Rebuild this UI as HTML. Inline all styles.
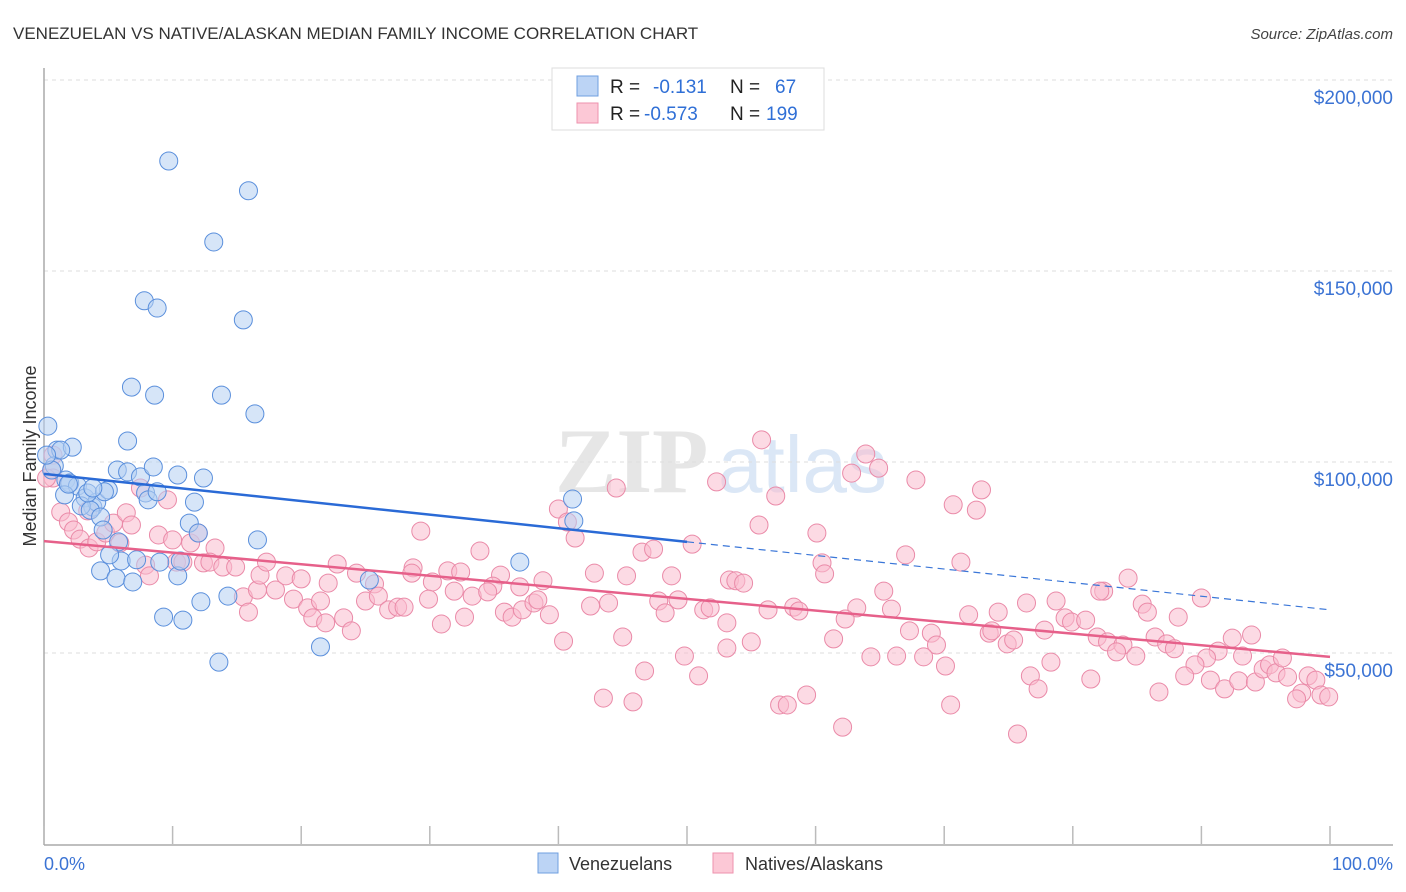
<!DOCTYPE html>
<html><head><meta charset="utf-8"><style>
body{margin:0;background:#fff;font-family:"Liberation Sans",sans-serif;}
svg{display:block}
</style></head><body>
<svg id="chart" width="1406" height="892" xmlns="http://www.w3.org/2000/svg">
<text x="13" y="39" font-size="17" fill="#333">VENEZUELAN VS NATIVE/ALASKAN MEDIAN FAMILY INCOME CORRELATION CHART</text>
<text x="1393" y="39" font-size="15" fill="#444" font-style="italic" text-anchor="end">Source: ZipAtlas.com</text>
<text x="36" y="456" font-size="18" fill="#333" text-anchor="middle" transform="rotate(-90 36 456)">Median Family Income</text>
<g><text x="555" y="492" font-size="92" fill="#e6e6e6" font-family="Liberation Serif,serif" font-weight="bold">ZIP</text><text x="718" y="492" font-size="80" fill="#dbe7f6">atlas</text></g>
<g id="grid"></g><g id="axes"></g><g id="trend"></g><g id="pts"></g>
<g>
<rect x="552" y="68" width="272" height="62" fill="#fff" stroke="#ddd"/>
<rect x="577" y="76" width="21" height="20" fill="#bcd4f5" stroke="#6f9fe0"/>
<rect x="577" y="103" width="21" height="20" fill="#fcc8d6" stroke="#ee92ad"/>
<text y="93" font-size="19"><tspan x="610" fill="#222">R = </tspan><tspan x="653" fill="#2f6fd6">-0.131</tspan><tspan x="730" fill="#222">N = </tspan><tspan x="775" fill="#2f6fd6">67</tspan></text>
<text y="120" font-size="19"><tspan x="610" fill="#222">R = </tspan><tspan x="644" fill="#2f6fd6">-0.573</tspan><tspan x="730" fill="#222">N = </tspan><tspan x="766" fill="#2f6fd6">199</tspan></text>
</g>
<g>
<rect x="538" y="853" width="20" height="20" fill="#bcd4f5" stroke="#6f9fe0"/>
<text x="569" y="870" font-size="18" fill="#333">Venezuelans</text>
<rect x="713" y="853" width="20" height="20" fill="#fcc8d6" stroke="#ee92ad"/>
<text x="745" y="870" font-size="18" fill="#333">Natives/Alaskans</text>
</g>
<text x="44" y="870" font-size="18" fill="#3b73d4">0.0%</text>
<text x="1393" y="870" font-size="18" fill="#3b73d4" text-anchor="end">100.0%</text>
</svg>
<script>
const yTicks=[50000,100000,150000,200000];
const yTickLabels=["$50,000","$100,000","$150,000","$200,000"];
const xTicks=[0,10,20,30,40,50,60,70,80,90,100];
const blueX=[0.3,1.0,2.2,0.8,0.6,1.7,2.0,2.6,1.6,3.2,3.8,4.1,2.9,3.6,4.4,5.0,4.6,5.8,6.0,5.1,4.4,5.6,6.9,5.7,6.5,7.5,8.5,7.9,8.1,8.8,6.5,6.8,8.6,7.8,8.8,9.7,13.2,15.9,15.5,13.8,16.4,10.4,12.4,11.7,11.3,12.0,10.4,9.0,9.3,10.8,12.2,14.3,13.6,16.6,21.5,25.3,37.0,41.1,41.2,1.3,0.2,3.4,4.7,7.2,3.8,1.9,10.6];
const blueY=[109.4,103.1,103.9,99.0,97.9,95.3,94.5,93.7,91.4,90.6,88.2,89.5,88.5,87.4,85.6,92.7,82.2,79.1,74.1,75.7,71.5,69.6,68.6,97.9,97.4,96.1,98.7,91.9,90.1,92.2,105.5,119.6,117.5,142.2,140.3,178.8,157.6,171.0,137.2,117.5,112.6,96.6,95.8,89.5,84.0,81.4,70.2,73.8,59.4,58.6,63.4,64.9,47.6,79.6,51.6,69.1,73.8,90.3,84.6,103.1,101.8,91.9,92.2,74.4,93.2,94.2,74.1];
const pinkX=[0.7,0.6,0.7,1.3,1.9,2.3,2.8,3.5,4.1,4.8,5.4,6.4,6.8,8.9,10.0,11.4,12.0,13.3,12.4,7.9,10.3,10.8,9.6,7.5,5.9,12.9,13.9,14.9,15.5,15.9,16.6,16.8,17.3,18.0,18.8,19.4,20.0,20.5,20.9,21.5,22.1,21.9,0.2,3.4,8.2,
44.5,52.3,40.0,40.7,41.3,29.3,33.9,50.4,46.5,47.4,22.8,24.3,28.7,28.6,31.4,32.4,30.2,35.5,34.9,37.0,38.8,42.8,45.3,48.8,23.3,23.9,25.0,25.7,26.0,26.8,27.5,28.0,29.9,31.9,33.3,34.5,30.9,32.7,35.8,36.4,37.2,38.1,38.4,39.3,42.5,43.9,47.8,49.3,48.3,51.3,51.8,53.1,53.1,40.4,45.0,49.8,46.7,50.9,43.5,45.8,53.3,
55.8,56.9,55.6,63.9,64.9,62.8,67.8,72.9,70.7,72.5,60.1,67.0,71.3,60.5,60.7,53.8,54.4,65.3,56.3,58.3,58.7,63.2,62.3,65.9,55.0,61.4,67.3,69.0,69.4,64.3,66.3,68.4,70.1,71.9,74.2,76.4,78.7,73.5,73.7,74.9,75.4,77.8,79.4,79.9,78.3,76.7,77.3,57.2,57.8,59.3,62.1,70.5,75.7,
84.3,82.4,85.4,85.8,88.2,90.0,81.0,81.9,82.7,83.9,83.4,84.9,86.4,87.3,87.9,91.3,92.4,93.9,93.2,90.4,89.5,88.7,90.7,91.8,92.9,94.2,94.8,95.3,95.8,96.3,96.7,98.3,98.9,97.8,97.4,99.3,99.9,86.7,81.4,82.1];
const pinkY=[101.8,97.9,95.8,86.9,84.3,82.2,79.8,77.5,79.1,81.4,84.0,86.7,83.5,80.9,79.6,78.8,81.4,77.5,73.6,73.0,73.8,73.8,90.1,93.2,78.8,73.8,72.5,72.5,64.7,60.7,66.5,70.4,73.8,66.5,70.2,64.1,69.4,61.8,59.2,63.6,68.3,57.9,95.8,87.2,70.2,
93.2,94.8,87.7,84.3,80.1,81.9,76.7,78.5,76.4,77.2,73.3,70.9,72.3,70.9,71.5,71.2,68.6,70.4,67.5,67.3,68.9,70.9,70.2,70.2,59.2,55.8,63.6,68.1,64.9,61.3,62.0,62.0,64.1,66.2,64.9,66.0,57.6,59.4,60.7,59.4,61.3,63.1,63.9,60.0,62.3,63.1,63.6,63.9,60.5,61.3,61.8,57.9,51.3,53.1,54.2,49.2,45.3,44.0,38.2,37.2,69.1,
105.8,91.1,83.5,102.1,98.4,97.1,95.3,92.7,88.8,87.4,81.4,75.7,73.8,73.6,70.7,68.9,68.3,66.2,61.3,62.0,61.0,61.8,58.9,61.5,52.9,53.7,55.8,55.2,52.1,49.0,49.2,49.0,46.6,60.0,60.7,63.1,63.6,55.2,55.8,52.4,53.4,56.0,59.2,58.1,47.6,44.0,40.6,36.4,36.4,39.0,30.6,36.4,28.8,
69.6,66.2,62.8,60.7,59.4,64.4,58.6,54.2,52.9,52.1,50.3,49.2,54.2,52.4,51.1,50.5,53.9,54.7,49.2,48.7,46.9,44.0,42.9,40.6,42.7,42.4,45.8,46.9,44.8,48.7,43.7,44.0,42.9,39.5,38.0,39.0,38.5,39.8,43.2,66.2];
const blueTrendX=[0,50,100];
const blueTrendY=[96.9,79.1,61.3];
const pinkTrendX=[0,100];
const pinkTrendY=[79.3,49.0];

const NS="http://www.w3.org/2000/svg";
const X0=44,X1=1330,YB=844,PXPER50K=191;
function sx(p){return X0+(X1-X0)*p/100;}
function sy(v){return YB-v/50000*PXPER50K;}
function sk(v){return sy(v*1000);}
function mk(tag,attrs,parent){const e=document.createElementNS(NS,tag);for(const k in attrs)e.setAttribute(k,attrs[k]);parent.appendChild(e);return e;}
const grid=document.getElementById('grid'),axes=document.getElementById('axes'),trend=document.getElementById('trend'),pts=document.getElementById('pts');
yTicks.forEach((v,i)=>{
  const l=mk('line',{x1:X0,x2:1393,y1:sy(v),y2:sy(v),stroke:'#ddd','stroke-dasharray':'4,4'},grid);
  
  
  const t=mk('text',{x:1393,y:sy(v)+24,'text-anchor':'end','font-size':'19',fill:'#3b73d4'},grid);
  t.textContent=yTickLabels[i];
  
  
});
const ax=mk('line',{x1:X0,x2:X0,y1:68,y2:YB+1,stroke:'#aaa','stroke-width':1.5},axes);


const bx=mk('line',{x1:X0,x2:1393,y1:YB+1,y2:YB+1,stroke:'#aaa','stroke-width':1.5},axes);


xTicks.forEach(p=>{
  const t=mk('line',{x1:sx(p),x2:sx(p),y1:826,y2:YB,stroke:'#bbb','stroke-width':1.5},axes);
  
  
});
function dots(xs,ys,fill,stroke,name){
  xs.forEach((p,i)=>{
    const c=mk('circle',{cx:sx(p),cy:sk(ys[i]),r:9,fill:fill,stroke:stroke,'stroke-width':1,'fill-opacity':0.55},pts);
    
    
  });
}
dots(pinkX,pinkY,'#f9bccd','#ea8aa8','native-point');
dots(blueX,blueY,'#b5cff3','#5a8fdc','venezuelan-point');
const bl=mk('line',{x1:sx(blueTrendX[0]),y1:sk(blueTrendY[0]),x2:sx(blueTrendX[1]),y2:sk(blueTrendY[1]),stroke:'#2a6ad6','stroke-width':2.5},trend);


const bd=mk('line',{x1:sx(blueTrendX[1]),y1:sk(blueTrendY[1]),x2:sx(blueTrendX[2]),y2:sk(blueTrendY[2]),stroke:'#3a76d8','stroke-width':1.2,'stroke-dasharray':'7,5'},trend);


const pl=mk('line',{x1:sx(pinkTrendX[0]),y1:sk(pinkTrendY[0]),x2:sx(pinkTrendX[1]),y2:sk(pinkTrendY[1]),stroke:'#e6608a','stroke-width':2.5},trend);


document.getElementById('chart').appendChild(trend);
</script>
</body></html>
